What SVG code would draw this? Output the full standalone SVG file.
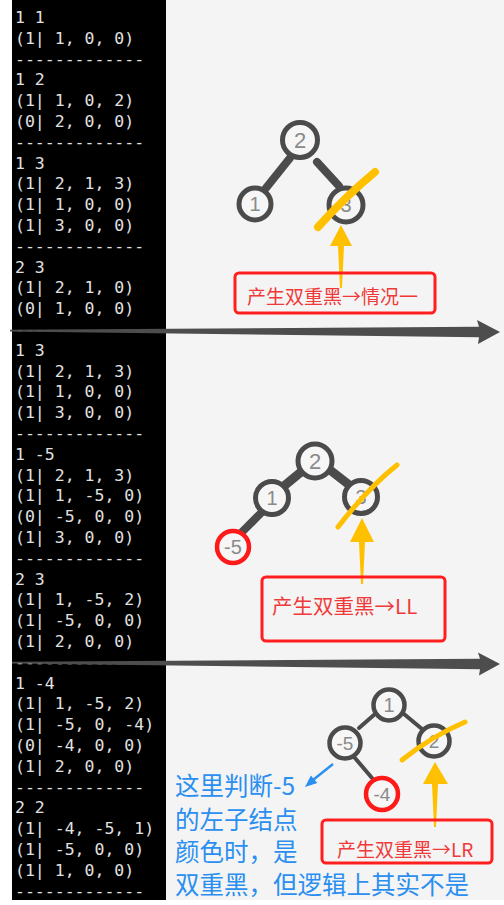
<svg xmlns="http://www.w3.org/2000/svg" width="504" height="905" viewBox="0 0 504 905">
<defs>
<style>
.mono{font-family:"DejaVu Sans Mono","Liberation Mono",monospace;font-size:16.5px;fill:#e2e2e2}
.nd{fill:#f6f6f6;stroke:#4b4b4b;stroke-width:5}
.nd3{fill:#f6f6f6;stroke:#4b4b4b;stroke-width:4.5}
.rd{fill:#f6f6f6;stroke:#ff1a1a;stroke-width:4.5}
.nl{font-family:"Liberation Sans","DejaVu Sans",sans-serif;fill:#8a8a8a;text-anchor:middle}
.edge{stroke:#4b4b4b;stroke-linecap:round;fill:none}
.slash{stroke:#ffc000;stroke-linecap:round;fill:none}
.yarr{fill:#ffc000}
.box{fill:none;stroke:#ff1f1f;stroke-width:3}
.bt{font-family:"Noto Sans CJK SC","Noto Sans",sans-serif;fill:#f03a3a}
.blue{font-family:"Noto Sans CJK SC","Noto Sans",sans-serif;fill:#2a8ff0;font-size:24.5px}
.gar{fill:#4d4d4d}
</style>
</defs>
<rect x="0" y="0" width="504" height="905" fill="#ffffff"/>
<rect x="166" y="0" width="338" height="900" fill="#f4f4f4"/>
<rect x="12" y="0" width="154" height="900" fill="#000000"/>

<g id="console">
<text class="mono" xml:space="preserve"><tspan x="15" y="23">1 1</tspan><tspan x="15" dy="20.8">(1| 1, 0, 0)</tspan><tspan x="15" dy="20.8">-------------</tspan><tspan x="15" dy="20.8">1 2</tspan><tspan x="15" dy="20.8">(1| 1, 0, 2)</tspan><tspan x="15" dy="20.8">(0| 2, 0, 0)</tspan><tspan x="15" dy="20.8">-------------</tspan><tspan x="15" dy="20.8">1 3</tspan><tspan x="15" dy="20.8">(1| 2, 1, 3)</tspan><tspan x="15" dy="20.8">(1| 1, 0, 0)</tspan><tspan x="15" dy="20.8">(1| 3, 0, 0)</tspan><tspan x="15" dy="20.8">-------------</tspan><tspan x="15" dy="20.8">2 3</tspan><tspan x="15" dy="20.8">(1| 2, 1, 0)</tspan><tspan x="15" dy="20.8">(0| 1, 0, 0)</tspan><tspan x="15" dy="20.8">-------------</tspan><tspan x="15" dy="20.8">1 3</tspan><tspan x="15" dy="20.8">(1| 2, 1, 3)</tspan><tspan x="15" dy="20.8">(1| 1, 0, 0)</tspan><tspan x="15" dy="20.8">(1| 3, 0, 0)</tspan><tspan x="15" dy="20.8">-------------</tspan><tspan x="15" dy="20.8">1 -5</tspan><tspan x="15" dy="20.8">(1| 2, 1, 3)</tspan><tspan x="15" dy="20.8">(1| 1, -5, 0)</tspan><tspan x="15" dy="20.8">(0| -5, 0, 0)</tspan><tspan x="15" dy="20.8">(1| 3, 0, 0)</tspan><tspan x="15" dy="20.8">-------------</tspan><tspan x="15" dy="20.8">2 3</tspan><tspan x="15" dy="20.8">(1| 1, -5, 2)</tspan><tspan x="15" dy="20.8">(1| -5, 0, 0)</tspan><tspan x="15" dy="20.8">(1| 2, 0, 0)</tspan><tspan x="15" dy="20.8">-------------</tspan><tspan x="15" dy="20.8">1 -4</tspan><tspan x="15" dy="20.8">(1| 1, -5, 2)</tspan><tspan x="15" dy="20.8">(1| -5, 0, -4)</tspan><tspan x="15" dy="20.8">(0| -4, 0, 0)</tspan><tspan x="15" dy="20.8">(1| 2, 0, 0)</tspan><tspan x="15" dy="20.8">-------------</tspan><tspan x="15" dy="20.8">2 2</tspan><tspan x="15" dy="20.8">(1| -4, -5, 1)</tspan><tspan x="15" dy="20.8">(1| -5, 0, 0)</tspan><tspan x="15" dy="20.8">(1| 1, 0, 0)</tspan><tspan x="15" dy="20.8">-------------</tspan></text>
</g>

<g id="connectors">
<!-- panel 1 edges -->
<line class="edge" x1="290" y1="158" x2="266" y2="188" stroke-width="8"/>
<line class="edge" x1="317" y1="162" x2="339" y2="186" stroke-width="8"/>
<!-- panel 2 edges -->
<line class="edge" x1="301" y1="472" x2="284" y2="486" stroke-width="9"/>
<line class="edge" x1="330" y1="470" x2="348" y2="484" stroke-width="9"/>
<line class="edge" x1="261" y1="513" x2="242" y2="532" stroke-width="8"/>
<!-- panel 3 edges -->
<line class="edge" x1="375" y1="714" x2="359" y2="728" stroke-width="4"/>
<line class="edge" x1="404" y1="714" x2="422" y2="729" stroke-width="4"/>
<line class="edge" x1="355" y1="758" x2="372" y2="778" stroke-width="4"/>
<!-- big gray arrows -->
<polygon class="gar" points="10,329.8 479,326.8 477,320 500,332 478,344 479,337.2 10,331.6"/>
<polygon class="gar" points="12,661.8 480,658.8 478,652.5 500,664 479,675.5 480,669.2 12,663.6"/>
<!-- blue arrow -->
<line x1="333" y1="764" x2="313" y2="780" stroke="#2a8ff0" stroke-width="2.5"/>
<polygon points="305,787 317.3,783 310.9,775.4" fill="#2a8ff0"/>
</g>

<g id="tree1">
<g id="t1-n2"><circle class="nd" cx="300" cy="140" r="17.5"/><text class="nl" x="300" y="148" font-size="22">2</text></g>
<g id="t1-n1"><circle class="nd" cx="255" cy="204" r="16"/><text class="nl" x="255" y="211" font-size="20">1</text></g>
<g id="t1-n3"><circle class="nd" cx="346" cy="205" r="17"/><text class="nl" x="346" y="212" font-size="20">3</text></g>
<path class="slash" d="M318,227 Q346,196 375,172" stroke-width="8"/>
<polygon class="yarr" points="341,225 330,246 338,246 340,288 342,288 344,246 352,246"/>
</g>
<g id="box1">
<rect class="box" x="235" y="273" width="200" height="40" rx="4"/>
<text class="bt" x="247" y="304" font-size="19">产生双重黑→情况一</text>
</g>

<g id="tree2">
<g id="t2-n2"><circle class="nd" cx="315" cy="461" r="17"/><text class="nl" x="315" y="469" font-size="22">2</text></g>
<g id="t2-n1"><circle class="nd" cx="272" cy="498" r="16.5"/><text class="nl" x="272" y="505" font-size="20">1</text></g>
<g id="t2-n3"><circle class="nd" cx="361" cy="497" r="16.5"/><text class="nl" x="361" y="504" font-size="20">3</text></g>
<g id="t2-n-5"><circle class="rd" cx="233" cy="547" r="16"/><text class="nl" x="233" y="554" font-size="20">-5</text></g>
<path class="slash" d="M338,527 Q368,488 397,465" stroke-width="5"/>
<polygon class="yarr" points="362,518 350,542 359,542 361,584 363,584 365,542 374,542"/>
</g>
<g id="box2">
<rect class="box" x="262" y="577" width="183" height="64" rx="4"/>
<text class="bt" x="272" y="614" font-size="20.5">产生双重黑→LL</text>
</g>

<g id="tree3">
<g id="t3-n1"><circle class="nd3" cx="389" cy="705" r="15.5"/><text class="nl" x="389" y="712" font-size="20">1</text></g>
<g id="t3-n-5"><circle class="nd3" cx="345" cy="743" r="15.5"/><text class="nl" x="345" y="750" font-size="19">-5</text></g>
<g id="t3-n2"><circle class="nd3" cx="434" cy="741" r="15.5"/><text class="nl" x="434" y="748" font-size="19">2</text></g>
<g id="t3-n-4"><circle class="rd" cx="382" cy="794" r="16"/><text class="nl" x="382" y="801" font-size="19">-4</text></g>
<path class="slash" d="M402,760 Q432,736 465,722" stroke-width="5"/>
<polygon class="yarr" points="435,762 423,784 432,784 434,827 436,827 438,784 448,784"/>
</g>
<g id="box3">
<rect class="box" x="322" y="820" width="170" height="43" rx="4"/>
<text class="bt" x="337" y="857" font-size="19">产生双重黑→LR</text>
</g>

<g id="note">
<text class="blue" x="175" y="795">这里判断-5</text>
<text class="blue" x="175" y="828.5">的左子结点</text>
<text class="blue" x="175" y="861">颜色时，是</text>
<text class="blue" x="175" y="893.5">双重黑，但逻辑上其实不是</text>
</g>
</svg>
